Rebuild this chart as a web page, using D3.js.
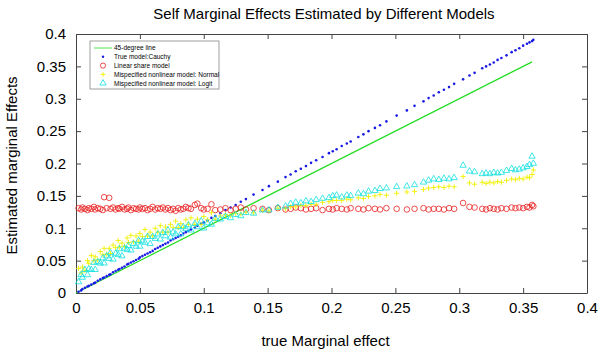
<!DOCTYPE html>
<html>
<head>
<meta charset="utf-8">
<script src="https://d3js.org/d3.v7.min.js"></script>
<style>
  body { margin: 0; background: #fff; }
  svg { display: block; font-family: "Liberation Sans", Arial, sans-serif; }
</style>
</head>
<body>
<svg width="598" height="352"></svg>
<script>
// true marginal effect of each observation (x)
const trueME = [
  0.002, 0.004, 0.005, 0.007, 0.009, 0.010, 0.012, 0.014, 0.015, 0.017, 0.019, 0.021, 0.022, 0.024,
  0.026, 0.027, 0.029, 0.031, 0.033, 0.034, 0.036, 0.038, 0.040, 0.041, 0.043, 0.045, 0.047, 0.049,
  0.050, 0.052, 0.054, 0.056, 0.058, 0.060, 0.062, 0.064, 0.066, 0.068, 0.070, 0.072, 0.074, 0.076,
  0.078, 0.080, 0.082, 0.084, 0.086, 0.088, 0.090, 0.093, 0.095, 0.098, 0.100, 0.103, 0.106, 0.109,
  0.113, 0.117, 0.121, 0.125, 0.129, 0.133, 0.139, 0.146, 0.151, 0.158, 0.164, 0.168, 0.172, 0.176,
  0.180, 0.184, 0.188, 0.193, 0.198, 0.201, 0.204,
  0.208, 0.212, 0.215, 0.221, 0.225, 0.229, 0.234, 0.238, 0.243, 0.251, 0.259, 0.265, 0.272, 0.276,
  0.280, 0.284, 0.288, 0.292, 0.296, 0.303, 0.308, 0.312, 0.318, 0.321, 0.324, 0.327, 0.330, 0.333,
  0.337, 0.341, 0.344, 0.347, 0.350, 0.353, 0.355, 0.357, 0.358
];

// True model: Cauchy
const cauchyME = [
  0.002, 0.004, 0.006, 0.008, 0.010, 0.011, 0.013, 0.015, 0.016, 0.019, 0.021, 0.023, 0.024, 0.026,
  0.028, 0.029, 0.032, 0.034, 0.036, 0.037, 0.039, 0.041, 0.044, 0.045, 0.047, 0.049, 0.051, 0.053,
  0.055, 0.057, 0.059, 0.061, 0.063, 0.065, 0.068, 0.070, 0.072, 0.074, 0.076, 0.078, 0.081, 0.083,
  0.085, 0.087, 0.089, 0.092, 0.094, 0.096, 0.098, 0.101, 0.104, 0.107, 0.109, 0.112, 0.116, 0.119,
  0.123, 0.128, 0.132, 0.136, 0.141, 0.145, 0.152, 0.159, 0.165, 0.172, 0.179, 0.183, 0.188, 0.192,
  0.196, 0.201, 0.205, 0.210, 0.216, 0.219, 0.222,
  0.227, 0.231, 0.234, 0.241, 0.245, 0.250, 0.255, 0.259, 0.265, 0.274, 0.282, 0.289, 0.296, 0.301,
  0.305, 0.310, 0.314, 0.318, 0.323, 0.330, 0.336, 0.340, 0.347, 0.350, 0.353, 0.356, 0.360, 0.363,
  0.367, 0.372, 0.375, 0.378, 0.382, 0.385, 0.387, 0.389, 0.391
];

// Linear share model
const linearME = [
  0.131, 0.129, 0.132, 0.130, 0.128, 0.131, 0.130, 0.133, 0.129, 0.131, 0.130, 0.128, 0.148, 0.131,
  0.147, 0.130, 0.132, 0.129, 0.131, 0.130, 0.133, 0.129, 0.130, 0.132, 0.128, 0.131, 0.130, 0.129,
  0.132, 0.130, 0.131, 0.128, 0.130, 0.133, 0.129, 0.131, 0.130, 0.132, 0.129, 0.131, 0.128, 0.130,
  0.127, 0.131, 0.129, 0.130, 0.133, 0.131, 0.130, 0.136, 0.138, 0.131, 0.129, 0.130, 0.137, 0.128,
  0.129, 0.131, 0.128, 0.130, 0.132, 0.129, 0.131, 0.130, 0.128, 0.131, 0.129, 0.130, 0.132, 0.131,
  0.129, 0.130, 0.131, 0.128, 0.130, 0.129, 0.131,
  0.130, 0.129, 0.131, 0.130, 0.129, 0.131, 0.130, 0.129, 0.131, 0.130, 0.129, 0.130, 0.131, 0.129,
  0.130, 0.130, 0.129, 0.131, 0.130, 0.139, 0.133, 0.132, 0.130, 0.129, 0.131, 0.130, 0.129, 0.131,
  0.130, 0.132, 0.131, 0.132, 0.131, 0.133, 0.132, 0.136, 0.134
];

// Misspecified nonlinear model: Normal
const normalME = [
  0.038, 0.031, 0.040, 0.035, 0.050, 0.046, 0.058, 0.050, 0.056, 0.051, 0.064, 0.059, 0.069, 0.060,
  0.069, 0.061, 0.074, 0.070, 0.081, 0.071, 0.077, 0.072, 0.085, 0.078, 0.089, 0.079, 0.088, 0.080,
  0.092, 0.087, 0.098, 0.088, 0.094, 0.088, 0.100, 0.094, 0.104, 0.094, 0.102, 0.094, 0.106, 0.101,
  0.111, 0.101, 0.107, 0.101, 0.113, 0.106, 0.116, 0.106, 0.114, 0.106, 0.118, 0.113, 0.124, 0.114,
  0.119, 0.121, 0.120, 0.123, 0.122, 0.125, 0.124, 0.128, 0.127, 0.131, 0.130, 0.133, 0.133, 0.135,
  0.135, 0.137, 0.137, 0.140, 0.141, 0.143, 0.143,
  0.143, 0.145, 0.144, 0.147, 0.146, 0.149, 0.150, 0.152, 0.151, 0.154, 0.156, 0.157, 0.160, 0.162,
  0.163, 0.164, 0.163, 0.165, 0.164, 0.180, 0.170, 0.168, 0.171, 0.169, 0.171, 0.170, 0.172, 0.171,
  0.174, 0.176, 0.175, 0.177, 0.176, 0.179, 0.178, 0.183, 0.190
];

// Misspecified nonlinear model: Logit
const logitME = [
  0.017, 0.028, 0.024, 0.036, 0.028, 0.037, 0.036, 0.047, 0.036, 0.048, 0.046, 0.054, 0.046, 0.057,
  0.053, 0.062, 0.052, 0.061, 0.059, 0.068, 0.057, 0.069, 0.067, 0.073, 0.066, 0.076, 0.072, 0.081,
  0.072, 0.080, 0.078, 0.087, 0.076, 0.087, 0.084, 0.091, 0.083, 0.093, 0.088, 0.097, 0.086, 0.094,
  0.091, 0.102, 0.091, 0.102, 0.099, 0.105, 0.097, 0.107, 0.102, 0.111, 0.100, 0.108, 0.106, 0.115,
  0.114, 0.118, 0.116, 0.121, 0.119, 0.124, 0.123, 0.128, 0.128, 0.132, 0.134, 0.138, 0.140, 0.139,
  0.142, 0.141, 0.144, 0.146, 0.147, 0.150, 0.151,
  0.148, 0.151, 0.150, 0.154, 0.153, 0.157, 0.158, 0.161, 0.162, 0.164, 0.165, 0.167, 0.171, 0.174,
  0.176, 0.175, 0.177, 0.176, 0.178, 0.197, 0.188, 0.187, 0.184, 0.185, 0.184, 0.186, 0.185, 0.186,
  0.189, 0.192, 0.190, 0.191, 0.193, 0.195, 0.198, 0.211, 0.200
];

// 45-degree reference line end points
const diagonal = [0, 0.357];

const xTicks = [0, 0.05, 0.1, 0.15, 0.2, 0.25, 0.3, 0.35, 0.4];
const yTicks = [0, 0.05, 0.1, 0.15, 0.2, 0.25, 0.3, 0.35, 0.4];

const legendLabels = [
  "45-degree line",
  "True model:Cauchy",
  "Linear share model",
  "Mispecified nonlinear model: Normal",
  "Mispecified nonlinear model: Logit"
];

const svg = d3.select("svg");
const margin = { top: 34, right: 11, bottom: 59, left: 76 };
const width = +svg.attr("width") - margin.left - margin.right;
const height = +svg.attr("height") - margin.top - margin.bottom;
const g = svg.append("g").attr("transform", `translate(${margin.left},${margin.top})`);

const x = d3.scaleLinear().domain([0, 0.4]).range([0, width]);
const y = d3.scaleLinear().domain([0, 0.4]).range([height, 0]);
const fmt = d3.format("~g");
const axisColor = "#444";

// title and axis labels
svg.append("text")
  .attr("x", 324).attr("y", 19)
  .attr("text-anchor", "middle")
  .style("font-size", "15px")
  .text("Self Marginal Effects Estimated by Different Models");

svg.append("text")
  .attr("x", margin.left + width / 2 - 6).attr("y", 346)
  .attr("text-anchor", "middle")
  .style("font-size", "15px")
  .text("true Marginal effect");

svg.append("text")
  .attr("transform", `translate(17,${margin.top + height / 2 + 2}) rotate(-90)`)
  .attr("text-anchor", "middle")
  .style("font-size", "15px")
  .text("Estimated marginal Effects");

// axes with inward ticks on all four sides
function styleAxis(sel) {
  sel.selectAll("path").attr("stroke", axisColor);
  sel.selectAll("line").attr("stroke", axisColor);
  sel.selectAll("text").attr("fill", "#000").style("font-size", "15px").style("font-family", "Liberation Sans, Arial, sans-serif");
}

g.append("g").attr("transform", `translate(0,${height})`)
  .call(d3.axisBottom(x).tickValues(xTicks).tickFormat(fmt).tickSize(-5).tickSizeOuter(0).tickPadding(9))
  .call(styleAxis);
g.append("g")
  .call(d3.axisTop(x).tickValues(xTicks).tickFormat("").tickSize(-5).tickSizeOuter(0))
  .call(styleAxis);
g.append("g")
  .call(d3.axisLeft(y).tickValues(yTicks).tickFormat(fmt).tickSize(-5).tickSizeOuter(0).tickPadding(10))
  .call(styleAxis);
g.append("g").attr("transform", `translate(${width},0)`)
  .call(d3.axisRight(y).tickValues(yTicks).tickFormat("").tickSize(-5).tickSizeOuter(0))
  .call(styleAxis);

const rows = trueME.map((t, i) => ({
  t, cauchy: cauchyME[i], linear: linearME[i], normal: normalME[i], logit: logitME[i]
}));

// 45-degree line
g.append("path")
  .datum(diagonal)
  .attr("fill", "none")
  .attr("stroke", "#22dd22")
  .attr("stroke-width", 1.2)
  .attr("d", d3.line().x(d => x(d)).y(d => y(d)));

// True model (blue dots)
g.append("g").selectAll("circle").data(rows).join("circle")
  .attr("cx", d => x(d.t)).attr("cy", d => y(d.cauchy))
  .attr("r", 1.3).attr("fill", "#1a1ae6");

// Linear share model (red circles)
g.append("g").selectAll("circle").data(rows).join("circle")
  .attr("cx", d => x(d.t)).attr("cy", d => y(d.linear))
  .attr("r", 2.8).attr("fill", "none").attr("stroke", "#e82020").attr("stroke-width", 0.8);

// Normal (yellow plus)
const plus = s => `M${-s},0H${s}M0,${-s}V${s}`;
g.append("g").selectAll("path").data(rows).join("path")
  .attr("transform", d => `translate(${x(d.t)},${y(d.normal)})`)
  .attr("d", plus(2.6))
  .attr("stroke", "#f0f000").attr("stroke-width", 0.9).attr("fill", "none");

// Logit (cyan triangles)
const tri = d3.symbol().type(d3.symbolTriangle).size(17);
g.append("g").selectAll("path").data(rows).join("path")
  .attr("transform", d => `translate(${x(d.t)},${y(d.logit)})`)
  .attr("d", tri)
  .attr("stroke", "#10e0e0").attr("stroke-width", 0.8).attr("fill", "none");

// legend
const lg = svg.append("g").attr("transform", "translate(90,41)");
lg.append("rect").attr("width", 129).attr("height", 48)
  .attr("fill", "#fff").attr("stroke", "#888").attr("stroke-width", 0.8);
const rowY = i => 7 + i * 8.8;
lg.selectAll("text").data(legendLabels).join("text")
  .attr("x", 24).attr("y", (d, i) => rowY(i) + 2.4)
  .style("font-size", "6.5px")
  .text(d => d);
lg.append("line").attr("x1", 4).attr("x2", 22).attr("y1", rowY(0)).attr("y2", rowY(0))
  .attr("stroke", "#22dd22").attr("stroke-width", 0.8);
lg.append("circle").attr("cx", 13).attr("cy", rowY(1)).attr("r", 1.2).attr("fill", "#1a1ae6");
lg.append("circle").attr("cx", 13).attr("cy", rowY(2)).attr("r", 2.6)
  .attr("fill", "none").attr("stroke", "#e82020").attr("stroke-width", 0.8);
lg.append("path").attr("transform", `translate(13,${rowY(3)})`).attr("d", plus(2.4))
  .attr("stroke", "#f0f000").attr("stroke-width", 0.9);
lg.append("path").attr("transform", `translate(13,${rowY(4)})`).attr("d", tri)
  .attr("stroke", "#10e0e0").attr("stroke-width", 0.8).attr("fill", "none");
</script>
</body>
</html>
